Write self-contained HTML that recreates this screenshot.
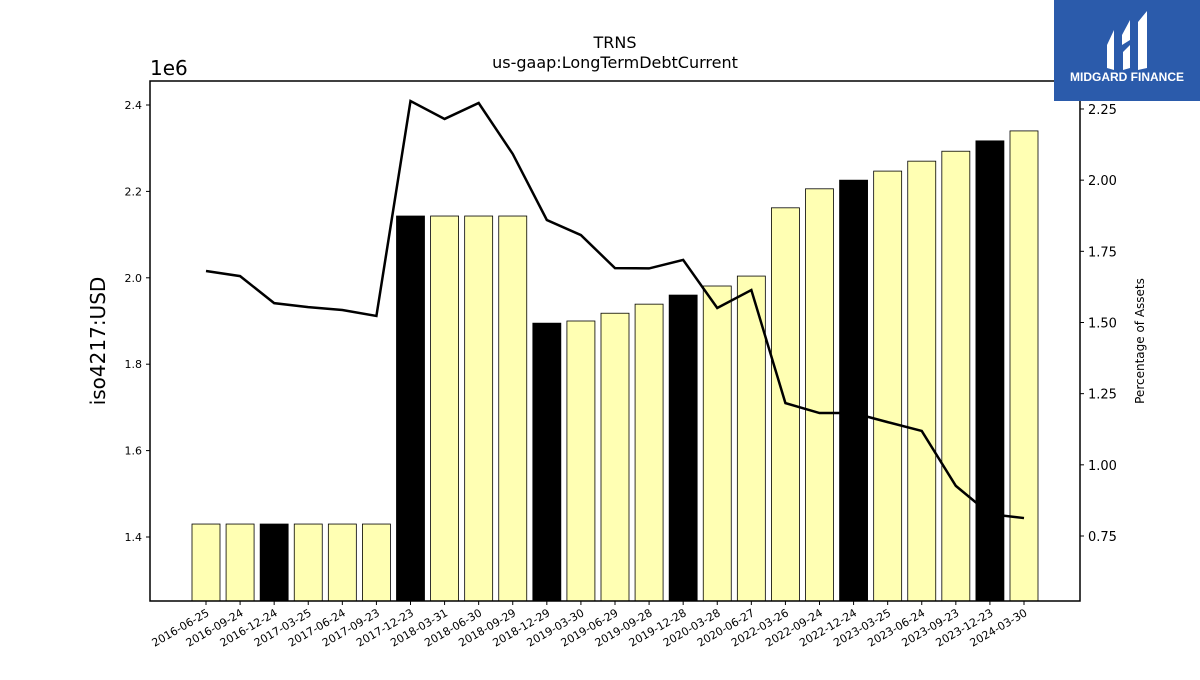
<!DOCTYPE html>
<html><head><meta charset="utf-8"><style>
body{margin:0;background:#fff;width:1200px;height:675px;overflow:hidden;font-family:"Liberation Sans","DejaVu Sans",sans-serif}
</style></head><body>
<svg id="c" width="1200" height="675" xmlns="http://www.w3.org/2000/svg" font-family="DejaVu Sans, Liberation Sans, sans-serif">
<text x="615" y="48" text-anchor="middle" font-size="16">TRNS</text>
<text x="615" y="68" text-anchor="middle" font-size="16">us-gaap:LongTermDebtCurrent</text>
<text x="150" y="75" font-size="20">1e6</text>
<text transform="translate(105,341) rotate(-90)" text-anchor="middle" font-size="20">iso4217:USD</text>
<text transform="translate(1144,341) rotate(-90)" text-anchor="middle" font-size="12">Percentage of Assets</text>
<g id="bars"></g><g id="axes"></g>
<g>
<rect x="1054" y="0" width="146" height="101" fill="#2b5bab"/>
<path d="M1107 45 L1114 30 L1114 70 L1107 68 Z M1122 35 L1130 20 L1130 40 L1122 45 Z M1123 52 L1130 45 L1130 68 L1123 70 Z M1138 22 L1147 11 L1147 68 L1138 70 Z" fill="#fff"/>
<text x="1127" y="81" text-anchor="middle" font-size="12" font-weight="bold" fill="#fff" font-family="Liberation Sans, sans-serif">MIDGARD FINANCE</text>
</g>
</svg>
<script>
const categories=["2016-06-25","2016-09-24","2016-12-24","2017-03-25","2017-06-24","2017-09-23","2017-12-23","2018-03-31","2018-06-30","2018-09-29","2018-12-29","2019-03-30","2019-06-29","2019-09-28","2019-12-28","2020-03-28","2020-06-27","2022-03-26","2022-09-24","2022-12-24","2023-03-25","2023-06-24","2023-09-23","2023-12-23","2024-03-30"];
const debtValues=[1.430,1.430,1.430,1.430,1.430,1.430,2.143,2.143,2.143,2.143,1.895,1.900,1.918,1.939,1.960,1.981,2.004,2.162,2.206,2.226,2.247,2.270,2.293,2.317,2.340];
const pctValues=[1.681,1.663,1.568,1.554,1.544,1.523,2.278,2.215,2.271,2.092,1.860,1.807,1.691,1.690,1.720,1.551,1.614,1.217,1.182,1.182,1.150,1.119,0.926,0.827,0.813];
const annual=[false,false,true,false,false,false,true,false,false,false,true,false,false,false,true,false,false,false,false,true,false,false,false,true,false];
const leftTicks=[1.4,1.6,1.8,2.0,2.2,2.4];
const rightTicks=[0.75,1.00,1.25,1.50,1.75,2.00,2.25];
const NS="http://www.w3.org/2000/svg";
const L=150,R=1080,T=81,B=601;
const y1=v=>537-(v-1.4)/0.2*86.4;
const y2=v=>536-(v-0.75)/0.25*71.17;
const step=(1024-206)/(categories.length-1);
const xc=i=>206+i*step;
function mk(t,a,p){const e=document.createElementNS(NS,t);for(const k in a)e.setAttribute(k,a[k]);p.appendChild(e);return e;}
const bars=document.getElementById('bars'),axes=document.getElementById('axes');
debtValues.forEach((v,i)=>{const r=mk('rect',{x:xc(i)-14,y:y1(v),width:28,height:B-y1(v),fill:annual[i]?'#000':'#ffffb3',stroke:'#000','stroke-width':0.8},bars);

});
const pl=mk('polyline',{points:pctValues.map((v,i)=>xc(i)+','+y2(v)).join(' '),fill:'none',stroke:'#000','stroke-width':2.5},bars);


const fr=mk('rect',{x:L,y:T,width:R-L,height:B-T,fill:'none',stroke:'#000','stroke-width':1.5},axes);


leftTicks.forEach(v=>{const y=y1(v);mk('line',{x1:L-4,x2:L,y1:y,y2:y,stroke:'#000'},axes);
const t=mk('text',{x:L-8,y:y+4,'text-anchor':'end','font-size':11},axes);t.textContent=v.toFixed(1);

});
rightTicks.forEach(v=>{const y=y2(v);mk('line',{x1:R,x2:R+4,y1:y,y2:y,stroke:'#000'},axes);
const t=mk('text',{x:R+8,y:y+5,'font-size':13},axes);t.textContent=v.toFixed(2);

});
categories.forEach((c,i)=>{const x=xc(i);mk('line',{x1:x,x2:x,y1:B,y2:B+4,stroke:'#000'},axes);
const t=mk('text',{transform:`translate(${x+4},${B+14}) rotate(-30)`,'text-anchor':'end','font-size':11},axes);t.textContent=c;

});
</script>
</body></html>
